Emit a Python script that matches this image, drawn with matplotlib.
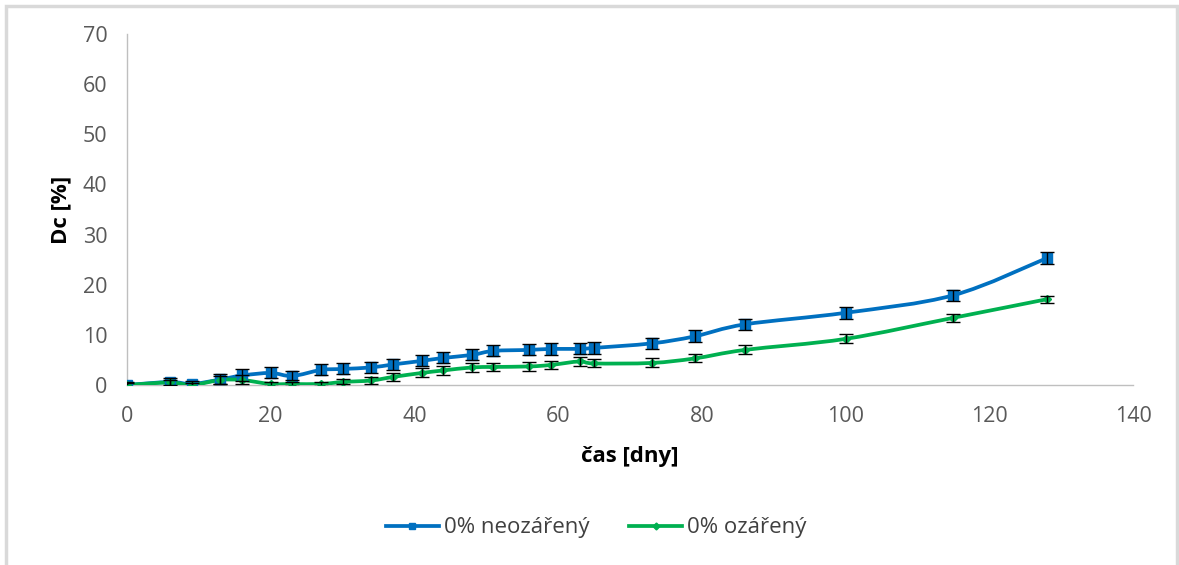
import matplotlib
matplotlib.use("Agg")
import matplotlib.pyplot as plt
import numpy as np
from matplotlib.path import Path
from matplotlib.patches import PathPatch, Rectangle
from matplotlib.lines import Line2D

plt.rcParams['font.family'] = ['Open Sans', 'DejaVu Sans']

days = [0, 6, 9, 13, 16, 20, 23, 27, 30, 34, 37, 41, 44, 48, 51, 56, 59, 63, 65, 73, 79, 86, 100, 115, 128]
neozareny = [0.0, 0.6, 0.2, 1.1, 1.9, 2.4, 1.8, 3.0, 3.2, 3.5, 4.1, 4.8, 5.4, 6.0, 6.8, 7.0, 7.2, 7.2, 7.4, 8.3, 9.7, 12.1, 14.4, 17.9, 25.3]
neozareny_err = [0.5, 0.8, 0.6, 1.0, 1.2, 1.1, 0.9, 1.1, 1.1, 1.1, 1.1, 1.1, 1.1, 1.1, 1.1, 1.1, 1.2, 1.1, 1.2, 1.1, 1.2, 1.15, 1.2, 1.1, 1.2]
ozareny = [0.0, 0.5, 0.0, 1.0, 1.0, 0.2, 0.2, 0.2, 0.6, 0.9, 1.6, 2.4, 2.9, 3.5, 3.6, 3.7, 4.0, 4.7, 4.3, 4.4, 5.3, 7.0, 9.2, 13.4, 17.1]
ozareny_err = [0.3, 0.5, 0.3, 0.8, 0.9, 0.3, 0.3, 0.3, 0.5, 0.7, 0.8, 0.9, 0.9, 0.9, 0.8, 0.9, 0.8, 0.9, 0.8, 0.9, 0.8, 0.9, 0.9, 0.8, 0.7]

x_ticks = [0, 20, 40, 60, 80, 100, 120, 140]
y_ticks = [0, 10, 20, 30, 40, 50, 60, 70]
labels = ['0% neozářený', '0% ozářený']
colors = ['#0070C0', '#00B050']

W, H = 1179, 565
fig = plt.figure(figsize=(W / 100, H / 100), dpi=100)
fig.patches.append(Rectangle((6 / W, -0.1), (1177 - 6) / W, 1 + 0.1 - 6 / H,
                             transform=fig.transFigure, fill=False,
                             edgecolor='#D9D9D9', linewidth=2.5))

ax = fig.add_axes([127 / W, 1 - 385 / H, (1133 - 127) / W, (385 - 34) / H])


def smooth_path(x, y):
    x = np.asarray(x, float)
    y = np.asarray(y, float)
    pts = np.column_stack([x, y])
    n = len(pts)
    verts = [pts[0]]
    codes = [Path.MOVETO]
    for i in range(n - 1):
        p0 = pts[i - 1] if i > 0 else pts[i]
        p1 = pts[i]
        p2 = pts[i + 1]
        p3 = pts[i + 2] if i + 2 < n else pts[i + 1]
        c1 = p1 + (p2 - p0) / 6.0
        c2 = p2 - (p3 - p1) / 6.0
        verts += [c1, c2, p2]
        codes += [Path.CURVE4] * 3
    return Path(verts, codes)


series = [(neozareny, neozareny_err, 's', 6.5), (ozareny, ozareny_err, 'D', 4.5)]
for (vals, err, mk, ms), col in zip(series, colors):
    ax.add_patch(PathPatch(smooth_path(days, vals), facecolor='none', edgecolor=col,
                           linewidth=2.7, zorder=3, capstyle='round', joinstyle='round'))
    ax.plot(days, vals, linestyle='none', marker=mk, markersize=ms, color=col, zorder=4)
    ax.errorbar(days, vals, yerr=err, fmt='none', ecolor='black', elinewidth=1.0,
                capsize=5, capthick=1.0, zorder=5)

ax.set_xlim(0, 140)
ax.set_ylim(0, 70)
ax.set_xticks(x_ticks)
ax.set_yticks(y_ticks)
ax.tick_params(axis='both', length=0, labelsize=15.5, colors='#595959')
ax.tick_params(axis='x', pad=15)
ax.tick_params(axis='y', pad=14)
for s in ['top', 'right']:
    ax.spines[s].set_visible(False)
for s in ['left', 'bottom']:
    ax.spines[s].set_color('#BFBFBF')
    ax.spines[s].set_linewidth(1.0)

ax.set_xlabel('čas [dny]', fontsize=16, fontweight='bold', color='black', labelpad=14)
ax.set_ylabel('Dc [%]', fontsize=16, fontweight='bold', color='black', labelpad=8)

handles = [Line2D([], [], color=colors[0], linewidth=2.7, marker='s', markersize=5),
           Line2D([], [], color=colors[1], linewidth=2.7, marker='D', markersize=3.5)]
fig.legend(handles, labels, loc='center', bbox_to_anchor=(596 / W, 1 - 528 / H),
           ncol=2, frameon=False, fontsize=16, handlelength=2.4, handletextpad=0.2,
           columnspacing=1.8, labelcolor='#404040')

fig.savefig('out.png', dpi=100)
